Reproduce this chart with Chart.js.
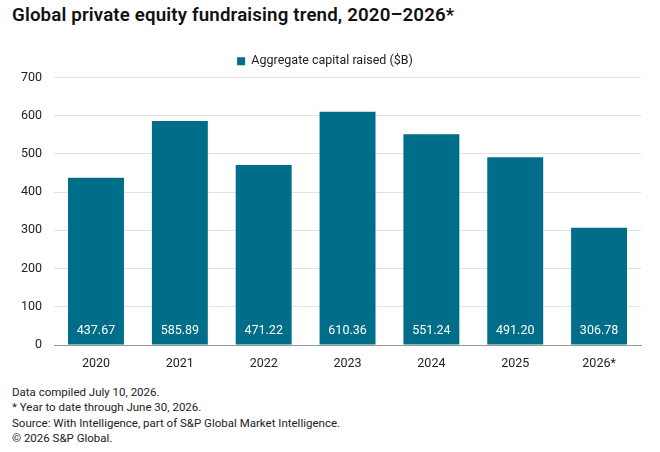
<!DOCTYPE html>
<html lang="en">
<head>
<meta charset="UTF-8">
<title>Global private equity fundraising trend</title>
<script src="https://cdn.jsdelivr.net/npm/chart.js"></script>
<style>
    body { margin: 0; background: #fff; font-family: Roboto, sans-serif; color: #222; }
    .wrap { position: relative; width: 660px; height: 452px; }
    h1 { position: absolute; left: 12px; top: 4px; margin: 0; font-size: 18.7px; font-weight: 600; color: #111; letter-spacing: 0.15px; }
    .chart { position: absolute; left: 0; top: 42px; width: 660px; height: 332px; }
    .notes { position: absolute; left: 12px; top: 385px; font-size: 11.5px; line-height: 15.3px; color: #222; }
</style>
</head>
<body>
<div class="wrap">
    <h1>Global private equity fundraising trend, 2020–2026*</h1>
    <div class="chart"><canvas id="fundChart"></canvas></div>
    <div class="notes">
        Data compiled July 10, 2026.<br>
        * Year to date through June 30, 2026.<br>
        Source: With Intelligence, part of S&amp;P Global Market Intelligence.<br>
        © 2026 S&amp;P Global.
    </div>
</div>
<script>
    // data
    const years = ["2020", "2021", "2022", "2023", "2024", "2025", "2026*"];
    const capitalRaised = [437.67, 585.89, 471.22, 610.36, 551.24, 491.20, 306.78];
    const yTicks = [0, 100, 200, 300, 400, 500, 600, 700];

    // value labels at the bottom of each bar
    const barLabels = {
        id: "barLabels",
        afterDatasetsDraw(chart) {
            const ctx = chart.ctx;
            const meta = chart.getDatasetMeta(0);
            const base = chart.scales.y.getPixelForValue(0);
            ctx.save();
            ctx.fillStyle = "#fff";
            ctx.font = "12.5px Roboto, sans-serif";
            ctx.textAlign = "center";
            ctx.textBaseline = "middle";
            meta.data.forEach((bar, i) => {
                ctx.fillText(capitalRaised[i].toFixed(2), bar.x, base - 14);
            });
            ctx.restore();
        }
    };

    new Chart(document.getElementById("fundChart"), {
        type: "bar",
        data: {
            labels: years,
            datasets: [{
                label: "Aggregate capital raised ($B)",
                data: capitalRaised,
                backgroundColor: "#006e89",
                categoryPercentage: 0.667,
                barPercentage: 1
            }]
        },
        options: {
            responsive: true,
            maintainAspectRatio: false,
            animation: false,
            layout: { padding: { left: 9, right: 19, top: 1 } },
            plugins: {
                legend: {
                    labels: { boxWidth: 8, boxHeight: 8, font: { size: 12.5, family: "Roboto" }, color: "#222", padding: 12 }
                },
                tooltip: { enabled: false }
            },
            scales: {
                x: {
                    grid: { display: false },
                    border: { color: "#999" },
                    ticks: { font: { size: 12.5, family: "Roboto" }, color: "#222" }
                },
                y: {
                    min: 0,
                    max: 700,
                    afterBuildTicks: axis => { axis.ticks = yTicks.map(v => ({ value: v })); },
                    grid: { color: "#e2e2e2", drawTicks: false },
                    border: { display: false },
                    ticks: { font: { size: 12.5, family: "Roboto" }, color: "#222", padding: 12 }
                }
            }
        },
        plugins: [barLabels]
    });
</script>
</body>
</html>
